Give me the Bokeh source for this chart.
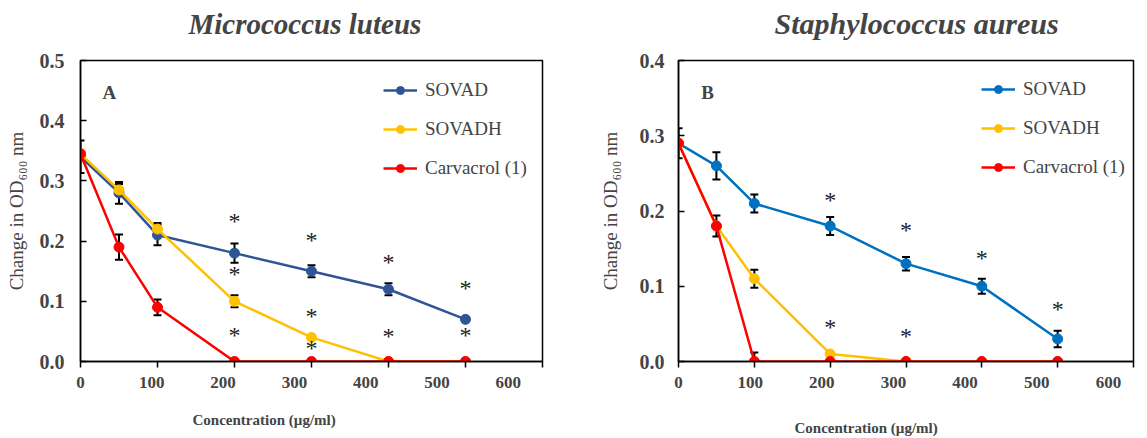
from bokeh.plotting import figure
from bokeh.layouts import row
from bokeh.models import (ColumnDataSource, Whisker, TeeHead, Range1d, LinearAxis,
                          FixedTicker, Label, Title, NumeralTickFormatter,
                          CustomLabelingPolicy)
from bokeh.core.properties import value
from bokeh.embed import file_html
from bokeh.resources import INLINE

# ---------------- data ----------------
conc = [0, 50, 100, 200, 300, 400, 500]
series_names = ["SOVAD", "SOVADH", "Carvacrol (1)"]
x_ticks = [0, 100, 200, 300, 400, 500, 600]

# Micrococcus luteus (panel A)
ml_sovad = [0.34, 0.28, 0.21, 0.18, 0.15, 0.12, 0.07]
ml_sovad_err = [0.027, 0.018, 0.017, 0.016, 0.01, 0.01, 0.0]
ml_sovadh = [0.345, 0.285, 0.22, 0.10, 0.04, 0.0, 0.0]
ml_sovadh_err = [0.0, 0.01, 0.01, 0.01, 0.0, 0.0, 0.0]
ml_carv = [0.345, 0.19, 0.09, 0.0, 0.0, 0.0, 0.0]
ml_carv_err = [0.0, 0.021, 0.013, 0.0, 0.0, 0.0, 0.0]
ml_star_x = [200, 200, 200, 300, 300, 300, 400, 400, 500, 500]
ml_star_y = [0.231, 0.143, 0.043, 0.20, 0.074, 0.021, 0.164, 0.04, 0.121, 0.043]

# Staphylococcus aureus (panel B)
sa_sovad = [0.29, 0.26, 0.21, 0.18, 0.13, 0.10, 0.03]
sa_sovad_err = [0.02, 0.018, 0.012, 0.012, 0.009, 0.01, 0.011]
sa_sovadh = [0.29, 0.18, 0.11, 0.01, 0.0, 0.0, 0.0]
sa_sovadh_err = [0.0, 0.014, 0.012, 0.0, 0.0, 0.0, 0.0]
sa_carv = [0.29, 0.18, 0.0, 0.0, 0.0, 0.0, 0.0]
sa_carv_err = [0.0, 0.0, 0.012, 0.0, 0.0, 0.0, 0.0]
sa_star_x = [200, 200, 300, 300, 400, 500]
sa_star_y = [0.213, 0.045, 0.173, 0.032, 0.136, 0.069]

SERIF = "Liberation Serif"

HIDE_LABELS = """
try {
  if (typeof indices.clear === 'function') { indices.clear(); }
  else { for (const i of Array.from(indices)) { indices.unset(i); } }
} catch (e) {}
return indices;
"""


def spacer_axis(h):
    # invisible axis used only to reserve vertical room
    ax = LinearAxis(ticker=FixedTicker(ticks=[300]))
    ax.axis_line_color = None
    ax.major_tick_line_color = None
    ax.minor_tick_line_color = None
    ax.major_tick_in = 0
    ax.major_tick_out = h
    ax.minor_tick_out = 0
    ax.major_label_standoff = 0
    ax.major_label_text_font_size = "0px"
    ax.major_label_policy = CustomLabelingPolicy(code=HIDE_LABELS)
    return ax


def make_panel(title, title_size, title_x, title_gap, letter, letter_x,
               letter_y, ymax, yticks, ylabel_standoff, ytick_standoff, colors,
               values, errors, star_x, star_y, lbl_end, legend_loc, borders,
               xlabel_x, xlabel_gap, frame_w):
    bl, br, bt, bb = borders
    p = figure(frame_width=frame_w, frame_height=301,
               x_range=Range1d(0, 600), y_range=Range1d(0, ymax),
               output_backend="svg", toolbar_location=None,
               min_border_left=bl, min_border_right=br,
               min_border_top=bt, min_border_bottom=bb,
               background_fill_color="white", border_fill_color="white")
    p.xgrid.visible = False
    p.ygrid.visible = False
    p.outline_line_color = "black"
    p.outline_line_width = 1.5

    # y axis
    ya = p.yaxis[0]
    ya.ticker = FixedTicker(ticks=yticks)
    ya.formatter = NumeralTickFormatter(format="0.0")
    ya.major_tick_in = 6
    ya.major_tick_out = 0
    ya.minor_tick_line_color = None
    ya.axis_line_color = "black"
    ya.axis_line_width = 1.5
    ya.major_tick_line_width = 1.5
    ya.major_label_standoff = ytick_standoff
    ya.major_label_text_font = SERIF
    ya.major_label_text_font_style = "bold"
    ya.major_label_text_font_size = "20px"
    ya.axis_label = "Change in OD\u2086\u2080\u2080 nm"
    ya.axis_label_text_font = SERIF
    ya.axis_label_text_font_style = "normal"
    ya.axis_label_text_font_size = "19px"
    ya.axis_label_standoff = ylabel_standoff

    # x axis: tick marks on the data scale (labels suppressed)
    xa = p.xaxis[0]
    xa.ticker = FixedTicker(ticks=x_ticks)
    xa.major_tick_in = 0
    xa.major_tick_out = 6
    xa.major_tick_line_width = 1.5
    xa.minor_tick_line_color = None
    xa.axis_line_color = "black"
    xa.axis_line_width = 1.5
    xa.major_label_policy = CustomLabelingPolicy(code=HIDE_LABELS)
    xa.major_label_text_font_size = "0px"
    xa.major_label_standoff = 0

    # x tick labels as drawn in the source figure (slightly compressed scale)
    p.extra_x_ranges = {"lbl": Range1d(0, lbl_end)}
    la = LinearAxis(x_range_name="lbl", ticker=FixedTicker(ticks=x_ticks))
    la.axis_line_color = None
    la.major_tick_line_color = None
    la.minor_tick_line_color = None
    la.major_tick_out = 0
    la.major_tick_in = 0
    la.major_label_standoff = 9
    la.major_label_text_font = SERIF
    la.major_label_text_font_style = "bold"
    la.major_label_text_font_size = "17px"
    p.add_layout(la, "below")

    # x-axis title (below, left-offset like the source figure)
    p.add_layout(spacer_axis(xlabel_gap), "below")
    p.add_layout(Title(text="Concentration  (\u00b5g/ml)", align="left",
                       offset=xlabel_x, text_font=SERIF,
                       text_font_style="bold", text_font_size="15px",
                       standoff=0), "below")

    # panel title
    p.add_layout(spacer_axis(title_gap), "above")
    p.add_layout(Title(text=title, align="left", offset=title_x,
                       text_font=SERIF, text_font_style="bold italic",
                       text_font_size=title_size, standoff=0), "above")

    # series
    for name, color, vals, errs in zip(series_names, colors, values, errors):
        ex = [x for x, e in zip(conc, errs) if e > 0]
        up = [v + e for v, e in zip(vals, errs) if e > 0]
        lo = [max(v - e, 0.0) for v, e in zip(vals, errs) if e > 0]
        if ex:
            wsrc = ColumnDataSource(dict(x=ex, upper=up, lower=lo))
            w = Whisker(base="x", upper="upper", lower="lower", source=wsrc,
                        line_color="black", line_width=2,
                        upper_head=TeeHead(size=8, line_color="black", line_width=2),
                        lower_head=TeeHead(size=8, line_color="black", line_width=2))
            p.add_layout(w)
        src = ColumnDataSource(dict(x=conc, y=vals))
        p.line("x", "y", source=src, line_color=color, line_width=2.5,
               legend_label=name)
        p.scatter("x", "y", source=src, size=10, fill_color=color,
                  line_color=color, legend_label=name)

    # significance marks
    p.text(x=star_x, y=star_y, text=["*"] * len(star_x),
           text_font=value(SERIF), text_font_size="24px",
           text_align="center", text_baseline="middle", y_offset=-1,
           text_color="#222222")

    p.add_layout(Label(x=letter_x, y=letter_y, text=letter, text_font=SERIF,
                       text_font_style="bold", text_font_size="19px",
                       text_baseline="top", text_align="left"))

    lg = p.legend[0]
    lg.location = legend_loc
    lg.padding = 0
    lg.margin = 0
    lg.spacing = 17
    lg.glyph_height = 20
    lg.label_height = 20
    lg.glyph_width = 34
    lg.label_standoff = 8
    lg.border_line_color = None
    lg.background_fill_alpha = 0
    lg.label_text_font = SERIF
    lg.label_text_font_size = "19px"
    return p


p1 = make_panel("Micrococcus luteus", "29px", 108, 21, "A", 28.6, 0.465,
                0.5, [0.0, 0.1, 0.2, 0.3, 0.4, 0.5], 10, 16,
                ["#2F5597", "#FFC000", "#FF0000"],
                [ml_sovad, ml_sovadh, ml_carv],
                [ml_sovad_err, ml_sovadh_err, ml_carv_err],
                ml_star_x, ml_star_y, 648, (303, 182),
                (80, 54, 60, 76), 112, 19, 462)

p2 = make_panel("Staphylococcus aureus", "30px", 96, 21, "B", 30, 0.372,
                0.4, [0.0, 0.1, 0.2, 0.3, 0.4], 16, 14,
                ["#0070C0", "#FFC000", "#FF0000"],
                [sa_sovad, sa_sovadh, sa_carv],
                [sa_sovad_err, sa_sovadh_err, sa_carv_err],
                sa_star_x, sa_star_y, 635, (303, 183),
                (77, 12, 60, 76), 116, 27, 455)

layout = row(p1, p2)
open("out.html", "w").write(file_html(layout, INLINE))
